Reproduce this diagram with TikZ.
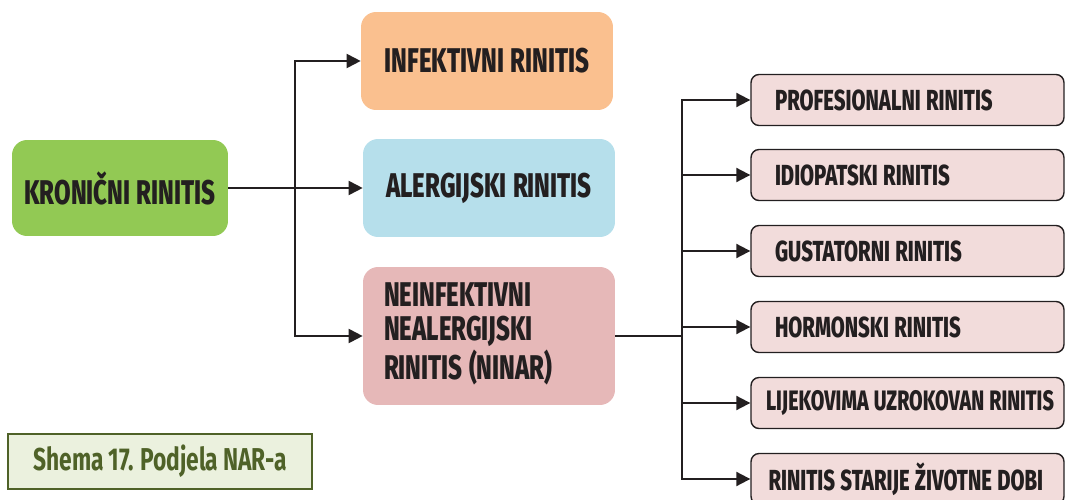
\documentclass[tikz,border=0pt]{standalone}
\usepackage{fontspec}
\newfontfamily\diagfont{Fira Sans}[FakeStretch=0.7,WordSpace=1.15,BoldFont={Fira Sans ExtraBold}]
\newfontfamily\capfont{Fira Sans}[FakeStretch=0.72,WordSpace=0.9]
\usetikzlibrary{arrows.meta,positioning}
\definecolor{krongreen}{HTML}{92C954}
\definecolor{infekorange}{HTML}{FAC08F}
\definecolor{alergblue}{HTML}{B6DFEB}
\definecolor{ninarpink}{HTML}{E6B8B8}
\definecolor{subpink}{HTML}{F2DCDB}
\definecolor{inkdark}{HTML}{231F20}
\definecolor{capgreen}{HTML}{4F6228}
\definecolor{capfill}{HTML}{EBF1DE}
\newcommand{\subtext}[2][5.3cm]{\makebox[#1][l]{#2}}

\begin{document}
\begin{tikzpicture}[x=0.02cm,y=-0.02cm,>={Triangle[length=8pt,width=8pt]},
	bigbox/.style={rectangle,rounded corners=0.3cm,text=inkdark,
		font=\diagfont\bfseries\fontsize{19.5}{18.5}\selectfont},
	subbox/.style={rectangle,rounded corners=0.16cm,draw=inkdark,line width=0.8pt,
		fill=subpink,text=inkdark,minimum height=1.02cm,minimum width=6.26cm,
		inner xsep=0pt,font=\diagfont\bfseries\fontsize{16.5}{17}\selectfont},
	link/.style={draw=inkdark,line width=1.1pt}]
	\useasboundingbox (0,0) rectangle (1065,500);
	\clip (0,0) rectangle (1065,500);

	\node[bigbox,fill=krongreen,minimum width=4.32cm,minimum height=1.92cm] (kron) at (120,188) {KRONIČNI RINITIS};
	\node[bigbox,fill=infekorange,minimum width=5.04cm,minimum height=1.96cm] (infekt) at (487,61) {INFEKTIVNI RINITIS};
	\node[bigbox,fill=alergblue,minimum width=5.04cm,minimum height=1.96cm] (alerg) at (489,188) {ALERGIJSKI RINITIS};
	\node[bigbox,fill=ninarpink,minimum width=5.04cm,minimum height=2.76cm] (ninar) at (489,336)
		{\subtext[4.2cm]{\begin{tabular}{@{}l@{}}NEINFEKTIVNI\\NEALERGIJSKI\\RINITIS (NINAR)\end{tabular}}};

	% podvrste NINAR-a
	\node[subbox] (prof) at (907.5,100) {\subtext{PROFESIONALNI RINITIS}};
	\node[subbox] (idio) at (907.5,175) {\subtext{IDIOPATSKI RINITIS}};
	\node[subbox] (gust) at (907.5,251) {\subtext{GUSTATORNI RINITIS}};
	\node[subbox] (horm) at (907.5,327) {\subtext{HORMONSKI RINITIS}};
	\node[subbox,font=\diagfont\bfseries\fontsize{16}{17}\selectfont] (lijek) at (907.5,403) {\subtext[5.66cm]{LIJEKOVIMA UZROKOVAN RINITIS}};
	\node[subbox] (star) at (907.5,479) {\subtext[5.56cm]{RINITIS STARIJE ŽIVOTNE DOBI}};

	\node[rectangle,draw=capgreen,line width=1.4pt,fill=capfill,text=capgreen,
		minimum width=6.08cm,minimum height=1.1cm,font=\capfont\bfseries\fontsize{18}{18}\selectfont] (caption) at (160,461.5)
		{Shema 17. Podjela NAR-a};

	\coordinate (lsplit) at (295,188);
	\coordinate (rsplit) at (682,336);

	\path[link,->] (kron.east) -- (alerg.west);
	\path[link,->] (lsplit) |- (infekt.west);
	\path[link,->] (lsplit) |- (ninar.west);
	\draw[inkdark,line width=0.8pt] (ninar.east) -- (rsplit);
	\path[link,->] (rsplit) |- (prof.west);
	\path[link,->] (rsplit) |- (idio.west);
	\path[link,->] (rsplit) |- (gust.west);
	\path[link,->] (rsplit) |- (horm.west);
	\path[link,->] (rsplit) |- (lijek.west);
	\path[link,->] (rsplit) |- (star.west);
\end{tikzpicture}
\end{document}
